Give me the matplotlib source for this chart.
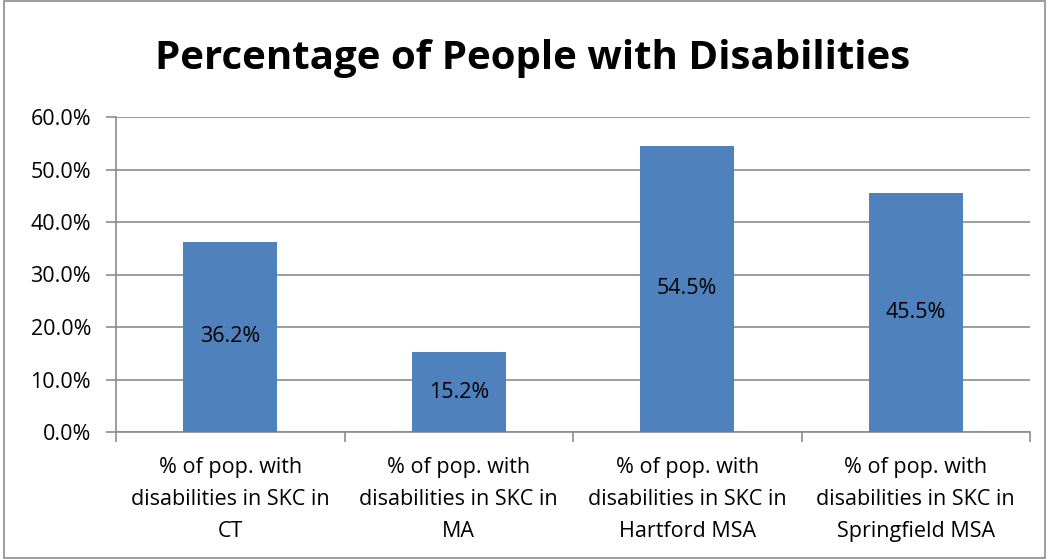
import matplotlib
matplotlib.use("Agg")
import matplotlib.pyplot as plt
from matplotlib.ticker import FuncFormatter, FixedLocator, MultipleLocator
from matplotlib.patches import Rectangle

categories = [
    "% of pop. with\ndisabilities in SKC in\nCT",
    "% of pop. with\ndisabilities in SKC in\nMA",
    "% of pop. with\ndisabilities in SKC in\nHartford MSA",
    "% of pop. with\ndisabilities in SKC in\nSpringfield MSA",
]
values = [36.2, 15.2, 54.5, 45.5]
title = "Percentage of People with Disabilities"

plt.rcParams['font.family'] = ['Open Sans', 'DejaVu Sans']
FS = 15.5

fig = plt.figure(figsize=(10.48, 5.59), dpi=100)
ax = fig.add_axes([116/1048, 1-432/559, (1030-116)/1048, (432-117)/559])

x = list(range(len(values)))
bars = ax.bar(x, values, width=0.41, color="#4F81BD", zorder=3)
for xi, v in zip(x, values):
    ax.text(xi, v/2, f"{v:.1f}%", ha="center", va="center", fontsize=FS, color="black", zorder=4)

ax.set_xlim(-0.5, len(values)-0.5)
ax.set_ylim(0, 60)
ax.yaxis.set_major_locator(MultipleLocator(10))
ax.yaxis.set_major_formatter(FuncFormatter(lambda v, p: f"{v:.1f}%"))
ax.grid(axis="y", color="#8c8c8c", linewidth=1.2, zorder=0)

ax.set_xticks(x)
ax.set_xticklabels(categories, fontsize=FS, linespacing=1.7)
ax.tick_params(axis="x", which="major", length=0, pad=18)
ax.xaxis.set_minor_locator(FixedLocator([i - 0.5 for i in range(len(values)+1)]))
ax.tick_params(axis="x", which="minor", length=7, color="#8c8c8c", width=1.2)
ax.tick_params(axis="y", length=7, color="#8c8c8c", width=1.2, labelsize=FS, pad=11)

for s in ["top", "right"]:
    ax.spines[s].set_visible(False)
for s in ["left", "bottom"]:
    ax.spines[s].set_color("#8c8c8c")
    ax.spines[s].set_linewidth(1.2)

fig.text(533/1048, 1-59/559, title, ha="center", va="center", fontsize=29, fontweight="bold")

fig.patches.append(Rectangle((0.004, 0.002), 0.993, 0.996, transform=fig.transFigure,
                             fill=False, edgecolor="#8c8c8c", linewidth=1.2))

fig.savefig("out.png", dpi=100)
